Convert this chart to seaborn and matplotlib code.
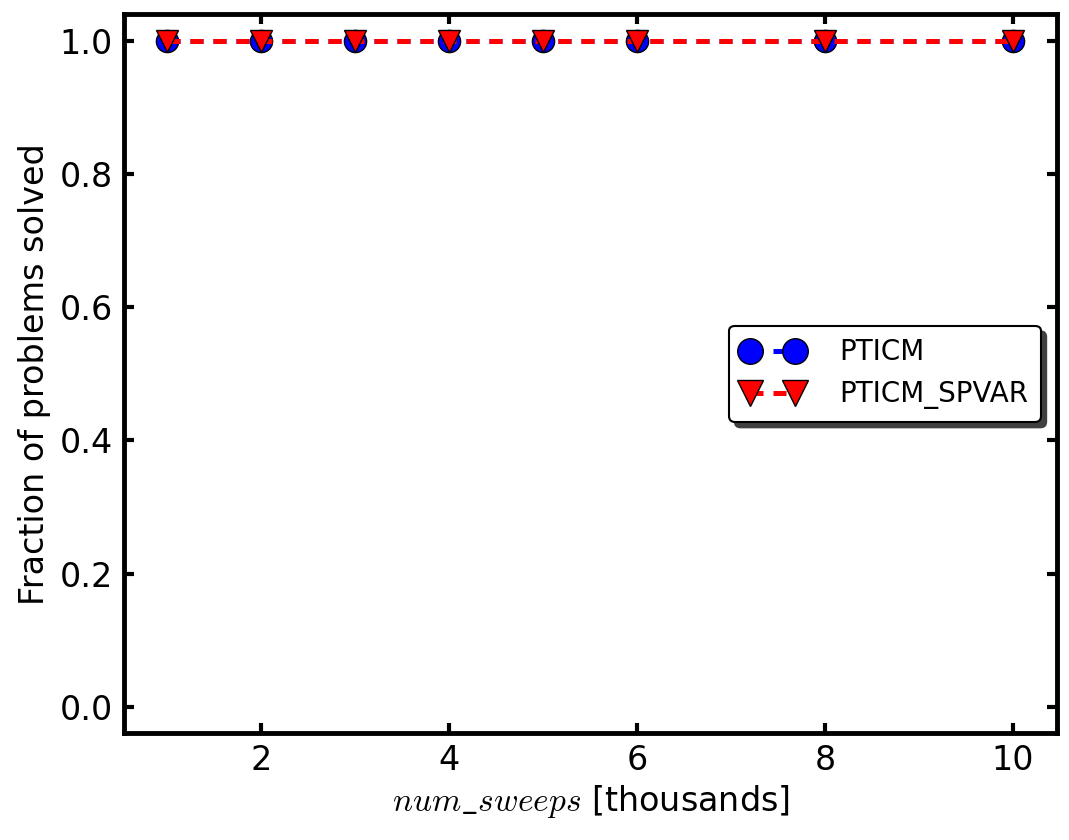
#!/usr/bin/env python3
"""
Fraction of problems solved vs num_sweeps
"""

import matplotlib
matplotlib.use("Agg")
import matplotlib.pyplot as plt
import seaborn as sns
import pandas as pd

# Data
sweeps = [1, 2, 3, 4, 5, 6, 8, 10]
pticm = [1.0, 1.0, 1.0, 1.0, 1.0, 1.0, 1.0, 1.0]
pticm_spvar = [1.0, 1.0, 1.0, 1.0, 1.0, 1.0, 1.0, 1.0]

sns.set_style("white")
plt.rcParams['font.family'] = ['DejaVu Sans']
plt.rcParams['mathtext.fontset'] = 'cm'
plt.rcParams['text.color'] = 'black'
plt.rcParams['axes.labelcolor'] = 'black'
plt.rcParams['xtick.color'] = 'black'
plt.rcParams['ytick.color'] = 'black'

df_a = pd.DataFrame({'sweeps': sweeps, 'frac': pticm})
df_b = pd.DataFrame({'sweeps': sweeps, 'frac': pticm_spvar})

fig = plt.figure(figsize=(10.69, 8.4), dpi=100)
ax = fig.add_axes([0.116, 0.127, 0.873, 0.856])

dash = (0, (2.6, 2.0))
sns.lineplot(data=df_a, x='sweeps', y='frac', ax=ax, color='blue',
             linestyle=dash, linewidth=3.6, marker='o', markersize=16,
             markeredgecolor='black', markeredgewidth=1, label='PTICM')
sns.lineplot(data=df_b, x='sweeps', y='frac', ax=ax, color='red',
             linestyle=dash, linewidth=3.6, marker='v', markersize=16,
             markeredgecolor='black', markeredgewidth=1, label='PTICM_SPVAR')

ax.set_xlim(0.54, 10.47)
ax.set_ylim(-0.04, 1.04)
ax.set_xticks([2, 4, 6, 8, 10])
ax.set_yticks([0.0, 0.2, 0.4, 0.6, 0.8, 1.0])
ax.set_yticklabels(['0.0', '0.2', '0.4', '0.6', '0.8', '1.0'])

ax.tick_params(axis='both', which='major', direction='in', length=7, width=3,
               labelsize=24, top=True, right=True, bottom=True, left=True,
               pad=8)
for sp in ax.spines.values():
    sp.set_linewidth(3.5)
    sp.set_color('black')

ax.set_xlabel(r'$num\_sweeps$ [thousands]', fontsize=24, labelpad=4)
ax.set_ylabel('Fraction of problems solved', fontsize=24, labelpad=6)

leg = ax.legend(loc='center right', fontsize=20, numpoints=2, frameon=True,
                shadow={'color': '0.25', 'alpha': 1.0, 'ox': 4, 'oy': -4},
                fancybox=True, borderaxespad=0.6, markerscale=1.15,
                handlelength=2.2, labelspacing=0.5, borderpad=0.45,
                handletextpad=1.3, framealpha=1)
leg.get_frame().set_edgecolor('black')
leg.get_frame().set_linewidth(1.5)

fig.savefig('out.png', dpi=100)
print("Saved: out.png")
